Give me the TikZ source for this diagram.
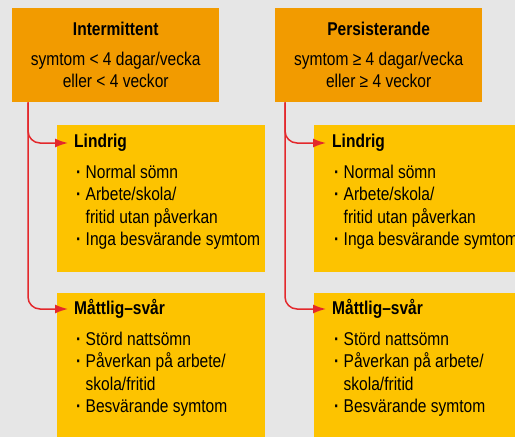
\documentclass[tikz,border=0pt]{standalone}
\usepackage{fontspec}
\setmainfont{Liberation Sans}[FakeStretch=0.84]
\usetikzlibrary{arrows.meta,positioning,calc}

\definecolor{pagegray}{HTML}{E6E6E6}
\definecolor{headorange}{HTML}{F29B00}
\definecolor{boxyellow}{HTML}{FDC300}
\definecolor{arrowred}{HTML}{E3282C}
\newcommand\boxfont{\fontsize{18.5}{22.3}\selectfont}
\newcommand\itm{\textbf{·}\ }
\newcommand\hng{\hphantom{\textbf{·}\ }}

\tikzset{
  headbox/.style={fill=headorange, anchor=north west, inner sep=0pt,
    minimum width=207pt, minimum height=94pt, align=center, font=\boxfont},
  levelbox/.style={fill=boxyellow, anchor=north west, inner sep=0pt},
  leveltitle/.style={anchor=west, inner sep=0pt, font=\boxfont\bfseries},
  levellist/.style={anchor=north west, inner sep=0pt, align=left, font=\boxfont},
  redarrow/.style={draw=arrowred, line width=1.5pt, rounded corners=12pt,
    -{Latex[length=13pt,width=9pt]}, shorten >=6pt}
}

\begin{document}
\begin{tikzpicture}[x=1pt,y=-1pt]
\fill[pagegray] (0,0) rectangle (515,437);
\useasboundingbox (0,0) rectangle (515,437);

% intermittent column
\node[headbox] (inter) at (12,8) {\textbf{Intermittent}\\[7.5pt]
  symtom < 4 dagar/vecka\\ eller < 4 veckor};
\node[levelbox, minimum width=208pt, minimum height=147pt] (interMild) at (57,125) {};
\node[leveltitle] (interMildT) at (74,143) {Lindrig};
\node[levellist] (interMildL) at (76,165) {\itm Normal sömn\\ \itm Arbete/skola/\\
  \hng fritid utan påverkan\\ \itm Inga besvärande symtom};
\node[levelbox, minimum width=208pt, minimum height=144pt] (interSev) at (57,293) {};
\node[leveltitle] (interSevT) at (74,309) {Måttlig–svår};
\node[levellist] (interSevL) at (76,332) {\itm Störd nattsömn\\ \itm Påverkan på arbete/\\
  \hng skola/fritid\\ \itm Besvärande symtom};

% persisterande column
\node[headbox] (pers) at (275,8) {\textbf{Persisterande}\\[7.5pt]
  symtom ≥ 4 dagar/vecka\\ eller ≥ 4 veckor};
\node[levelbox, minimum width=201pt, minimum height=147pt] (persMild) at (314,125) {};
\node[leveltitle] (persMildT) at (332,143) {Lindrig};
\node[levellist] (persMildL) at (334,165) {\itm Normal sömn\\ \itm Arbete/skola/\\
  \hng fritid utan påverkan\\ \itm Inga besvärande symtom};
\node[levelbox, minimum width=201pt, minimum height=144pt] (persSev) at (314,293) {};
\node[leveltitle] (persSevT) at (332,309) {Måttlig–svår};
\node[levellist] (persSevL) at (334,332) {\itm Störd nattsömn\\ \itm Påverkan på arbete/\\
  \hng skola/fritid\\ \itm Besvärande symtom};

% arrows
\coordinate (interStem) at ($(inter.south west)+(16,0)$);
\coordinate (persStem) at ($(pers.south west)+(10,0)$);
\draw[redarrow] (interStem) |- (interMildT.west);
\draw[redarrow] (interStem) |- (interSevT.west);
\draw[redarrow] (persStem) |- (persMildT.west);
\draw[redarrow] (persStem) |- (persSevT.west);
\end{tikzpicture}
\end{document}
